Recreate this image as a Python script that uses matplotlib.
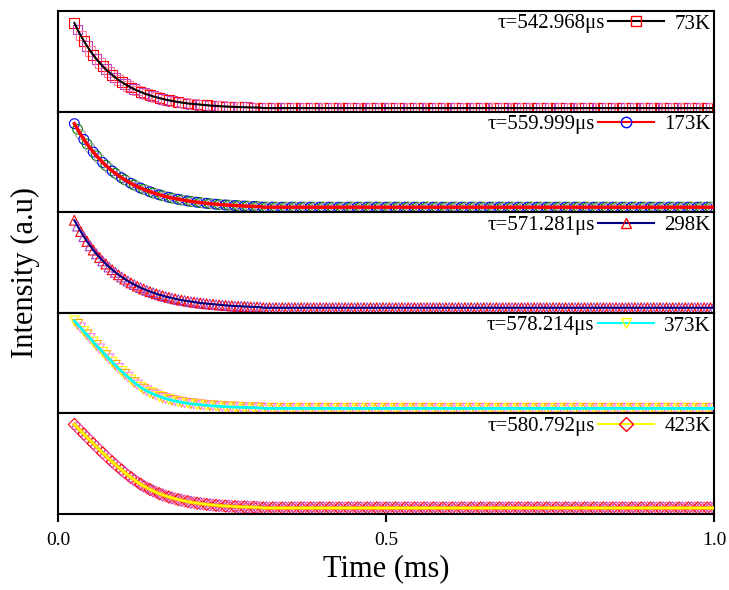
import numpy as np
import matplotlib.pyplot as plt
from matplotlib.lines import Line2D

plt.rcParams['font.family']=['Liberation Serif','DejaVu Serif']

#时间轴 (ms)，采样间隔约0.0048ms
t=np.arange(0.025,1.0,0.0048)

temps=['73K','173K','298K','373K','423K']
taus=['τ=542.968μs','τ=559.999μs','τ=571.281μs','τ=578.214μs','τ=580.792μs']

#各温度下的归一化强度，前60个点为衰减段
head73=[0.880,0.816,0.757,0.703,0.652,0.606,0.562,0.522,0.486,0.451,
        0.420,0.391,0.364,0.339,0.315,0.294,0.274,0.256,0.239,0.223,
        0.209,0.195,0.183,0.172,0.161,0.151,0.142,0.134,0.126,0.119,
        0.112,0.106,0.100,0.095,0.090,0.086,0.081,0.078,0.074,0.071,
        0.068,0.065,0.062,0.060,0.058,0.056,0.054,0.052,0.050,0.049,
        0.047,0.046,0.045,0.044,0.043,0.042,0.041,0.040,0.039,0.039]
head173=[0.880,0.825,0.773,0.724,0.679,0.637,0.598,0.561,0.527,0.494,
         0.464,0.436,0.410,0.386,0.363,0.342,0.322,0.303,0.286,0.270,
         0.254,0.240,0.227,0.215,0.203,0.192,0.182,0.173,0.164,0.156,
         0.148,0.141,0.135,0.128,0.122,0.117,0.112,0.107,0.103,0.099,
         0.095,0.091,0.088,0.085,0.082,0.079,0.076,0.074,0.072,0.070,
         0.068,0.066,0.064,0.063,0.061,0.060,0.058,0.057,0.056,0.055]
head298=[0.920,0.862,0.808,0.757,0.710,0.666,0.624,0.586,0.550,0.516,
         0.485,0.455,0.428,0.402,0.378,0.356,0.335,0.316,0.297,0.281,
         0.265,0.250,0.236,0.223,0.211,0.200,0.189,0.179,0.170,0.162,
         0.154,0.146,0.139,0.132,0.126,0.121,0.115,0.110,0.106,0.101,
         0.097,0.094,0.090,0.087,0.084,0.081,0.078,0.076,0.073,0.071,
         0.069,0.067,0.065,0.064,0.062,0.061,0.059,0.058,0.057,0.056]
head373=[0.920,0.885,0.850,0.815,0.780,0.745,0.710,0.676,0.642,0.608,
         0.575,0.542,0.510,0.478,0.447,0.417,0.388,0.360,0.333,0.307,
         0.283,0.261,0.241,0.223,0.207,0.193,0.180,0.168,0.157,0.147,
         0.138,0.130,0.123,0.116,0.110,0.105,0.100,0.096,0.092,0.088,
         0.085,0.082,0.079,0.076,0.074,0.072,0.070,0.068,0.066,0.065,
         0.063,0.062,0.061,0.060,0.059,0.058,0.057,0.056,0.055,0.055]
head423=[0.890,0.858,0.826,0.794,0.762,0.730,0.699,0.668,0.637,0.607,
         0.577,0.548,0.519,0.491,0.464,0.437,0.411,0.386,0.362,0.339,
         0.317,0.297,0.278,0.260,0.244,0.229,0.215,0.202,0.190,0.179,
         0.169,0.160,0.151,0.143,0.136,0.129,0.123,0.117,0.112,0.107,
         0.103,0.099,0.095,0.092,0.089,0.086,0.084,0.081,0.079,0.077,
         0.075,0.074,0.072,0.071,0.070,0.069,0.068,0.067,0.066,0.065]
#衰减后基本平坦的尾部
tail_level=[0.035,0.05,0.05,0.05,0.06]

heads=[head73,head173,head298,head373,head423]
markers=['s','o','^','v','D']
edge_cols=[['red','#c040c0','#ff7f9f'],
           ['blue','green','#a0a0a0'],
           ['red','#a040c0'],
           ['yellow','orange','#ff80ff'],
           ['red','#c040c0','#ff60a0']]
leg_mark=['red','blue','red','yellow','red']
line_cols=['black','red','navy','cyan','yellow']
line_w=[1.5,2.5,1.5,2.0,1.5]

fig,axes=plt.subplots(5,1,figsize=(7.29,5.9),dpi=100,sharex=True)
fig.subplots_adjust(left=58/729,right=714/729,top=1-11/590,bottom=1-514/590,hspace=0)

for i,ax in enumerate(axes):
    y=np.array(heads[i]+[tail_level[i]]*(len(t)-len(heads[i])))
    cols=[edge_cols[i][k%len(edge_cols[i])] for k in range(len(t))]
    ms=38 if markers[i]=='D' else 50
    ax.scatter(t,y,marker=markers[i],s=ms,facecolors='none',edgecolors=cols,linewidths=0.8,zorder=2)
    if i==4:
        ax.plot(t,y,color='orange',lw=2.6,zorder=3)
    ax.plot(t,y,color=line_cols[i],lw=line_w[i],zorder=4)
    ax.set_xlim(0,1.0)
    ax.set_ylim(0,1)
    ax.set_yticks([])
    for s in ax.spines.values():
        s.set_linewidth(1.5)
    h=Line2D([],[],color=line_cols[i],lw=1.5,marker=markers[i],mec=leg_mark[i],mfc='none',ms=7.5,mew=1)
    leg=ax.legend(handles=[h],labels=[temps[i]],loc='upper right',frameon=False,fontsize=15,
                  handlelength=2.7,handletextpad=0.5,borderaxespad=0.0,borderpad=0.15)
    ax.annotate(taus[i],xy=(0,0.5),xycoords=leg,xytext=(0,0),textcoords='offset points',
                ha='right',va='center',fontsize=15)
    if i<4:
        ax.tick_params(axis='x',which='both',bottom=False,labelbottom=False)

axes[-1].set_xticks([0.0,0.5,1.0])
axes[-1].set_xticklabels(['0.0','0.5','1.0'])
axes[-1].tick_params(axis='x',direction='out',length=6,width=1.5,labelsize=14,pad=7)
axes[-1].set_xlabel('Time (ms)',fontsize=22,labelpad=4)
fig.text(0.035,1-272/590,'Intensity (a.u)',rotation=90,ha='center',va='center',fontsize=22)

plt.savefig('out.png',dpi=100)
